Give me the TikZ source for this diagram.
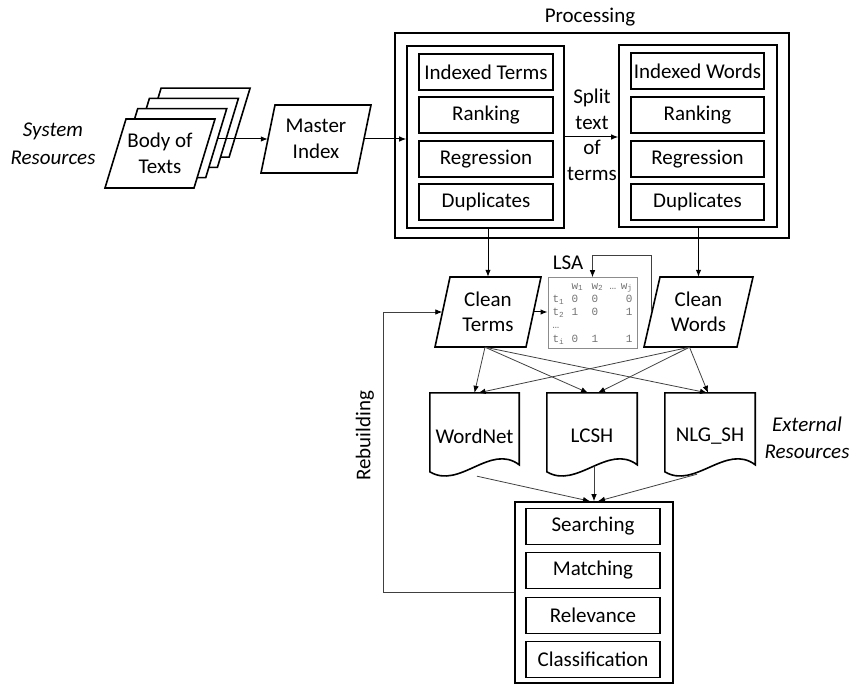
\documentclass[tikz,border=0pt]{standalone}
\usepackage{fontspec}
\setmainfont{Carlito}
\newfontfamily\lsamono{Liberation Mono}
\usetikzlibrary{arrows.meta,calc}
\newcommand\mypgram[5]{%
  \draw[shp] (#1-#3/2-#5/2, #2+#4/2) -- (#1+#3/2-#5/2, #2+#4/2) -- (#1+#3/2+#5/2, #2-#4/2) -- (#1-#3/2+#5/2, #2-#4/2) -- cycle;}
\newcommand\docoutline[1]{%
  \draw[shpline] (#1.north west) -- (#1.north east) -- ($(#1.north east)+(0,72)$)
    .. controls ($(#1.north east)+(-29,50)$) and ($(#1.north west)+(30,97)$) .. ($(#1.north west)+(0,79)$) -- cycle;}
\begin{document}
\begin{tikzpicture}[x=1pt,y=-1pt,
  every node/.style={font=\fontsize{21}{25.5}\selectfont},
  shp/.style={draw, line width=1.6pt, fill=white, line join=miter},
  shpline/.style={draw, line width=1.6pt},
  subbox/.style={draw, line width=1.8pt, minimum width=134pt, minimum height=36pt, inner sep=0pt},
  frame/.style={draw, line width=1.6pt, inner sep=0pt},
  txt/.style={inner sep=0pt, align=center},
  conn/.style={line width=1pt, -{Latex[length=7pt,width=5.5pt]}},
  thinconn/.style={line width=0.8pt, draw=black!75, -{Latex[length=7pt,width=5.5pt,color=black]}},
  lsabox/.style={draw=black!45, line width=1pt, minimum width=89pt, minimum height=70pt,
    inner xsep=4.5pt, inner ysep=2pt, text=black!55, font=\lsamono\fontsize{11}{13.3}\selectfont},
  itlabel/.style={inner sep=0pt, align=center, font=\fontsize{21}{28}\selectfont\itshape},
]
\useasboundingbox (0,0) rectangle (851,684);

% System resources
\node[itlabel] (sysres) at (53,144) {System\\Resources};

% Body of texts stack
\foreach \k in {3,2,1}{\mypgram{160+11.7*\k}{153.5-10.3*\k}{89}{69}{21}}
\mypgram{160}{153.5}{89}{69}{21}
\node[txt, minimum width=89pt, minimum height=69pt] (body) at (160,153.5) {Body of\\Texts};
\coordinate (bodyout) at (218,139);

% Master index
\mypgram{316}{139}{96}{68}{14}
\node[txt, minimum width=96pt, minimum height=68pt] (master) at (316,139) {Master\\Index};

% Processing
\node[txt] (proclabel) at (590,17) {Processing};
\node[frame, minimum width=394pt, minimum height=205pt] (proc) at (592,135.5) {};
\node[frame, minimum width=157pt, minimum height=182pt] (linner) at (485.5,137) {};
\node[frame, minimum width=158pt, minimum height=182pt] (rinner) at (698,136) {};
\node[subbox] (lterms) at (486,72) {Indexed Terms};
\node[subbox] (lrank) at (486,115) {Ranking};
\node[subbox] (lreg) at (486,159) {Regression};
\node[subbox] (ldup) at (486,202) {Duplicates};
\node[subbox, minimum width=133pt] (rwords) at (697.5,71) {Indexed Words};
\node[subbox, minimum width=133pt] (rrank) at (697.5,115) {Ranking};
\node[subbox, minimum width=133pt] (rreg) at (697.5,159) {Regression};
\node[subbox, minimum width=133pt] (rdup) at (697.5,202) {Duplicates};
\node[txt] (split) at (592,135) {Split\\text\\of\\terms};

\draw[conn] (bodyout) -- (master.west);
\draw[conn] (master.east) -- (master.east -| linner.west);
\draw[conn] (linner.east) -- (linner.east -| rinner.west);

% Clean terms / words
\mypgram{488}{312}{91}{70}{15}
\node[txt, minimum width=91pt, minimum height=70pt] (cterms) at (488,312) {Clean\\Terms};
\mypgram{698.5}{312}{93}{70}{16}
\node[txt, minimum width=93pt, minimum height=70pt] (cwords) at (698.5,312) {Clean\\Words};

\draw[conn] (linner.south -| cterms.north) -- (cterms.north);
\draw[conn] (rinner.south -| cwords.north) -- (cwords.north);

% LSA matrix
\node[txt] (lsalabel) at (568,263) {LSA};
\node[lsabox] (lsa) at (592.5,313) {%
  \begin{tabular}{@{}p{19pt}@{}p{20pt}@{}p{18pt}@{}p{23pt}@{}}
   & w\textsubscript{1} & w\textsubscript{2} & …\hfill w\textsubscript{j}\\
  t\textsubscript{1} & 0 & 0 & \hfill 0\\
  t\textsubscript{2} & 1 & 0 & \hfill 1\\
  … & & & \\
  t\textsubscript{i} & 0 & 1 & \hfill 1
  \end{tabular}};
\draw[conn] (cterms.east) -- (cterms.east -| lsa.west);
\draw[thinconn] (cwords.west) -- ++(0,-57) -| (lsa.north);

% Documents
\node[txt, minimum width=89pt, minimum height=86pt] (wordnet) at (474.5,436) {WordNet};
\node[txt, minimum width=90pt, minimum height=86pt] (lcsh) at (592,436) {LCSH};
\node[txt, minimum width=90pt, minimum height=86pt] (nlgsh) at (710,436) {NLG\_SH};
\docoutline{wordnet}
\docoutline{lcsh}
\docoutline{nlgsh}
\node[itlabel, font=\fontsize{21}{27}\selectfont\itshape] (extres) at (807,438) {External\\Resources};

\draw[thinconn] ([xshift=-3]cterms.south) -- (wordnet.north);
\draw[thinconn] ([xshift=-3]cterms.south) -- ([xshift=-4]lcsh.north);
\draw[thinconn] ([xshift=-3]cterms.south) -- ([xshift=-3]nlgsh.north);
\draw[thinconn] ([xshift=-9]cwords.south) -- ([xshift=4]wordnet.north);
\draw[thinconn] ([xshift=-9]cwords.south) -- ([xshift=6]lcsh.north);
\draw[thinconn] ([xshift=-9]cwords.south) -- ([xshift=-2]nlgsh.north);

% Bottom box
\node[frame, minimum width=158pt, minimum height=181pt] (bottom) at (594,592.5) {};
\node[subbox] (search) at (593,526.5) {Searching};
\node[subbox] (match) at (593,570.5) {Matching};
\node[subbox] (relev) at (593,615.5) {Relevance};
\node[subbox] (classif) at (593,659.5) {Classification};

\draw[thinconn] ([xshift=2.5,yshift=3]wordnet.south) -- ([xshift=-4]bottom.north);
\draw[thinconn] ([xshift=2,yshift=12]lcsh.south) -- (bottom.north);
\draw[thinconn] ([xshift=-13,yshift=5]nlgsh.south) -- ([xshift=4]bottom.north);

% Rebuilding loop
\coordinate (rb) at (383,0);
\draw[thinconn] (bottom.west) -| (rb |- cterms.west) -- (cterms.west);
\node[txt, rotate=90] (rebuild) at (365,436) {Rebuilding};
\end{tikzpicture}
\end{document}
